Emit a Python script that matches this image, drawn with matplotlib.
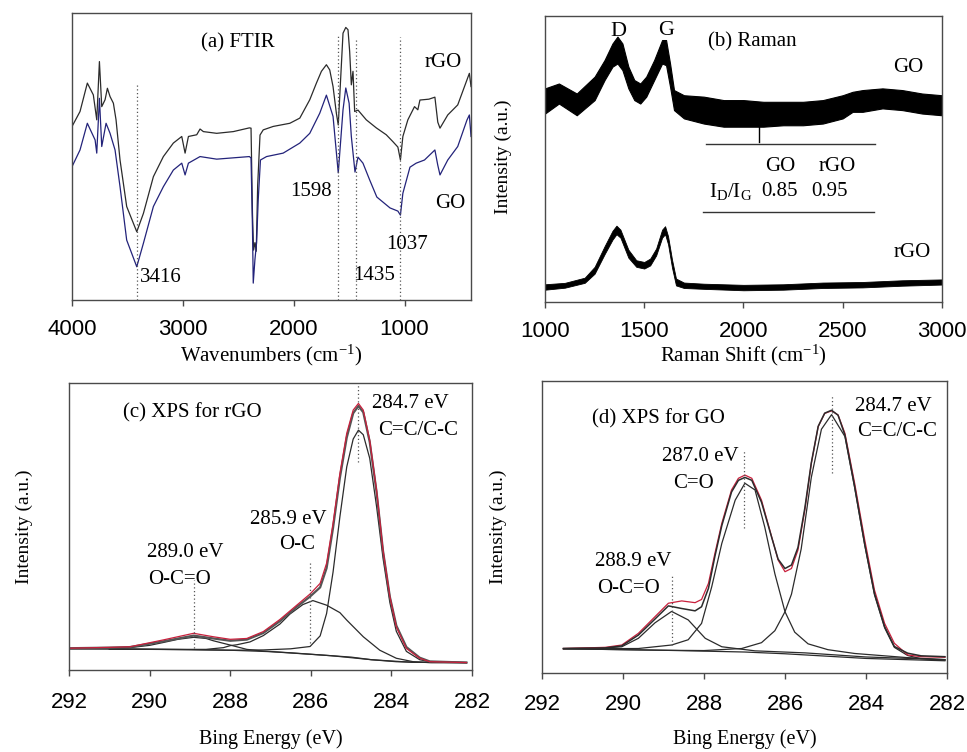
import numpy as np
import matplotlib
matplotlib.use("Agg")
from matplotlib import pyplot as plt

plt.rcParams['font.family'] = 'Liberation Serif'
plt.rcParams['mathtext.fontset'] = 'custom'
plt.rcParams['mathtext.rm'] = 'Liberation Serif'
plt.rcParams['mathtext.it'] = 'Liberation Serif:italic'
plt.rcParams['lines.solid_joinstyle'] = 'round'

# ---(a) FTIR, transmittance in a.u. (0-100 = axis height)---
ftir_rgo_wn = [4000, 3928, 3862, 3808, 3777, 3753, 3732, 3702, 3681, 3657, 3627, 3603, 3567, 3507,
               3416, 3356, 3266, 3176, 3086, 3010, 2980, 2950, 2875, 2845, 2815, 2695, 2545, 2400,
               2385, 2372, 2362, 2350, 2338, 2325, 2304, 2275, 2185, 2035, 1945, 1855, 1795, 1750,
               1705, 1675, 1645, 1615, 1598, 1555, 1530, 1510, 1495, 1480, 1465, 1450, 1420, 1345,
               1255, 1165, 1105, 1060, 1037, 1015, 970, 910, 880, 861, 780, 726, 700, 680, 610, 520,
               437, 415, 400]
ftir_rgo = [60.5, 65.7, 75.6, 71.5, 62.8, 83.1, 67.4, 69.8, 73.8, 70.9, 68.6, 62.8, 48.8, 32.6,
            23.8, 30.2, 43.0, 50.0, 54.7, 57.0, 51.2, 57.0, 57.6, 59.6, 58.7, 58.1, 58.7, 60.0,
            59.9, 30.0, 17.4, 20.0, 17.0, 40.0, 57.5, 59.3, 60.5, 61.6, 63.4, 69.8, 75.6, 79.7,
            82.0, 80.2, 74.4, 65.1, 61.0, 93.0, 95.0, 94.2, 86.6, 75.0, 79.7, 65.7, 66.2, 62.8,
            60.0, 57.6, 55.2, 53.3, 48.8, 57.0, 62.8, 67.4, 66.3, 69.7, 70.0, 70.7, 62.0, 59.9, 64.5, 68.0,
            76.7, 79.0, 74.4]
ftir_go_wn = [4000, 3928, 3862, 3792, 3777, 3753, 3732, 3693, 3657, 3612, 3567, 3507, 3416, 3356,
              3266, 3176, 3086, 3010, 2980, 2950, 2845, 2695, 2400, 2385, 2372, 2365, 2350, 2335,
              2320, 2300, 2245, 2095, 1945, 1855, 1765, 1705, 1645, 1598, 1555, 1530, 1500, 1480,
              1447, 1420, 1375, 1315, 1250, 1131, 1060, 1037, 1015, 951, 895, 820, 726, 700, 680,
              610, 520, 437, 415, 400]
ftir_go = [46.5, 52.3, 61.6, 55.8, 51.2, 70.3, 53.5, 61.6, 58.1, 52.3, 39.5, 20.9, 11.6, 19.8,
           32.6, 39.5, 45.3, 47.7, 43.6, 47.7, 50.0, 49.1, 50.0, 49.5, 25.0, 5.9, 14.0, 20.0,
           35.0, 48.8, 50.0, 51.2, 54.7, 58.1, 65.1, 71.4, 64.0, 44.3, 66.3, 73.9, 68.6, 57.0,
           44.6, 49.8, 47.7, 41.9, 35.9, 32.1, 31.0, 29.6, 37.2, 46.3, 47.7, 48.8, 52.3, 47.0, 43.6,
           48.8, 53.5, 62.7, 64.5, 57.0]
ftir_peaks = [3416, 1598, 1435, 1037]
ftir_peak_top = [74.9, 92.3, 90.6, 91.6]
ftir_labels = ["3416", "1598", "1435", "1037"]
ftir_label_x = [3387, 1845, 1276, 978]
ftir_label_y = [8.0, 38.0, 8.7, 19.2]
ftir_label_ha = ["left", "center", "center", "center"]

# ---(b) Raman, noise band lower/upper edge---
raman_go_x = [1000, 1070, 1160, 1250, 1300, 1340, 1365, 1390, 1420, 1450, 1480, 1510, 1550, 1590,
              1610, 1630, 1650, 1700, 1800, 1900, 2000, 2100, 2200, 2300, 2400, 2500, 2550, 2600,
              2700, 2800, 2900, 3000]
raman_go_hi = [74.7, 76.4, 72.9, 78.8, 84.6, 90.4, 92.8, 90.4, 82.3, 77.6, 76.4, 78.8, 84.6, 91.6,
               91.6, 83.4, 74.1, 72.3, 71.8, 70.6, 70.6, 70.0, 70.0, 70.0, 70.6, 72.3, 73.5, 74.1,
               74.7, 74.1, 72.9, 72.3]
raman_go_lo = [65.9, 69.4, 65.3, 70.6, 77.6, 82.3, 83.4, 81.1, 74.7, 70.6, 69.4, 71.8, 77.6, 83.4,
               82.8, 75.3, 67.1, 64.2, 62.4, 61.3, 61.3, 61.3, 61.8, 61.8, 62.4, 64.2, 66.5, 66.5,
               67.7, 67.1, 65.9, 65.3]
raman_rgo_x = [1000, 1100, 1200, 1250, 1300, 1340, 1360, 1380, 1420, 1460, 1500, 1530, 1560, 1590,
               1605, 1620, 1640, 1660, 1700, 1800, 2000, 2200, 2400, 2600, 2800, 3000]
raman_rgo_hi = [6.2, 6.7, 8.5, 12.3, 19.5, 24.9, 26.7, 25.3, 18.3, 14.6, 14.0, 15.2, 18.7, 25.3,
                26.5, 23.0, 14.8, 8.2, 6.8, 6.4, 6.0, 6.2, 6.8, 7.0, 7.6, 7.9]
raman_rgo_lo = [4.3, 5.0, 6.7, 9.9, 16.7, 21.8, 23.7, 22.5, 15.5, 12.3, 11.7, 12.8, 16.3, 22.5,
                23.7, 20.2, 12.0, 5.8, 4.9, 4.6, 4.1, 4.3, 4.9, 5.1, 5.7, 6.1]
raman_spike_x = [2080, 2080]
raman_spike_y = [61.3, 56.0]
id_ig_go = 0.85
id_ig_rgo = 0.95

# ---(c) XPS rGO---
c_E = [292.0, 291.0, 290.49, 289.66, 288.91, 288.42, 288.0, 287.59, 287.18, 286.77, 286.35, 286.02,
       285.77, 285.61, 285.45, 285.28, 285.11, 284.95, 284.82, 284.70, 284.54, 284.37, 284.21,
       284.04, 283.88, 283.63, 283.30, 283.05, 282.14]
c_raw = [7.6, 7.9, 8.1, 10.5, 12.8, 11.6, 10.7, 11.0, 13.4, 17.6, 22.6, 26.5, 30.2, 37.2, 51.1,
         68.5, 82.5, 90.6, 92.9, 90.6, 80.1, 62.7, 41.8, 25.6, 15.1, 7.5, 4.1, 2.9, 2.6]
c_fit = [7.6, 7.8, 8.0, 10.0, 12.0, 11.0, 10.2, 10.6, 12.9, 17.0, 22.0, 25.6, 28.8, 35.5, 49.5,
         67.0, 81.0, 89.5, 92.0, 89.8, 79.5, 62.0, 41.5, 25.5, 15.5, 8.0, 4.3, 3.0, 2.6]
c_cc_E = [291.0, 289.0, 288.0, 287.18, 286.5, 286.02, 285.77, 285.61, 285.45, 285.28, 285.11,
          284.95, 284.82, 284.70, 284.54, 284.37, 284.21, 284.04, 283.88, 283.63, 283.30, 283.05,
          282.14]
c_cc = [7.3, 7.1, 6.9, 7.0, 7.4, 8.2, 11.9, 19.7, 34.1, 53.4, 70.8, 80.5, 83.6, 82.0, 73.8, 57.0,
        39.0, 23.5, 13.5, 6.5, 3.6, 2.9, 2.6]
c_oc_E = [291.0, 289.5, 288.6, 288.17, 288.0, 287.84, 287.51, 287.18, 286.77, 286.52, 286.2,
          285.95, 285.61, 285.28, 285.11, 284.70, 284.29, 283.88, 283.46, 283.05, 282.14]
c_oc = [7.3, 7.2, 7.2, 7.8, 8.5, 8.8, 9.8, 12.0, 16.0, 19.5, 22.8, 24.2, 22.6, 20.0, 17.4, 11.6,
        6.9, 4.1, 2.9, 2.6, 2.6]
c_oco_E = [292.0, 291.0, 290.49, 290.0, 289.66, 289.3, 288.91, 288.6, 288.42, 288.0, 287.59,
           287.18, 286.5, 285.5, 284.5, 283.5, 282.14]
c_oco = [7.4, 7.4, 7.8, 8.6, 9.6, 10.7, 11.4, 11.0, 10.2, 8.7, 7.2, 6.6, 6.0, 5.0, 3.6, 2.7, 2.6]
c_bg_E = [292.0, 290.49, 289.0, 288.0, 287.0, 286.02, 285.0, 284.5, 283.88, 283.0, 282.14]
c_bg = [7.4, 7.3, 7.1, 6.9, 6.4, 5.5, 4.5, 3.6, 2.9, 2.6, 2.6]
c_marks = [284.82, 286.02, 288.9]
c_mark_top = [100, 37.2, 31.4]
c_mark_bot = [72.6, 9.3, 7.6]

# ---(d) XPS GO---
d_E = [291.47, 290.44, 290.03, 289.62, 289.21, 288.88, 288.55, 288.22, 288.06, 287.89, 287.73,
       287.56, 287.32, 287.15, 286.99, 286.82, 286.58, 286.33, 286.17, 286.0, 285.84, 285.68,
       285.51, 285.35, 285.18, 285.02, 284.85, 284.69, 284.52, 284.28, 284.03, 283.79, 283.54,
       283.3, 282.97, 282.64, 282.05]
d_raw = [8.4, 8.8, 9.6, 13.6, 19.3, 23.9, 24.7, 24.1, 25.2, 30.7, 41.0, 51.3, 62.7, 66.7, 67.8,
         66.7, 59.2, 46.7, 38.7, 34.7, 35.8, 42.1, 55.8, 71.8, 84.4, 88.9, 89.8, 88.4, 82.1, 65.0,
         45.5, 28.4, 17.0, 10.2, 6.2, 5.6, 5.4]
d_fit = [8.4, 8.6, 9.3, 13.0, 18.5, 23.0, 22.1, 21.3, 22.7, 29.0, 40.0, 50.5, 62.0, 66.0, 67.0,
         66.0, 58.5, 46.5, 39.0, 35.8, 37.0, 43.0, 56.5, 72.0, 84.5, 89.0, 90.0, 88.3, 81.5, 63.9,
         44.0, 27.2, 15.9, 9.1, 6.8, 5.9, 5.6]
d_oco_E = [291.47, 290.44, 290.03, 289.62, 289.21, 288.8, 288.39, 287.97, 287.56, 286.74, 285.5,
           284.0, 282.05]
d_oco = [8.4, 8.6, 9.0, 11.9, 17.2, 21.1, 18.2, 11.9, 9.0, 7.6, 6.9, 5.5, 4.6]
d_co_E = [291.47, 289.62, 288.8, 288.39, 288.06, 287.81, 287.56, 287.23, 286.99, 286.74, 286.5,
          286.25, 286.0, 285.76, 285.43, 284.94, 284.28, 283.0, 282.05]
d_co = [8.3, 8.4, 9.6, 11.4, 17.0, 29.5, 44.4, 59.2, 65.0, 62.7, 50.0, 34.0, 21.0, 14.0, 10.0,
        8.0, 6.7, 5.3, 4.6]
d_cc_E = [291.47, 289.0, 288.0, 287.07, 286.58, 286.25, 286.0, 285.84, 285.6, 285.35, 285.1,
          284.85, 284.52, 284.28, 284.03, 283.79, 283.54, 283.3, 282.97, 282.64, 282.05]
d_cc = [8.3, 7.8, 7.7, 8.4, 10.4, 14.5, 21.0, 27.0, 42.5, 67.0, 83.5, 88.5, 81.0, 63.5, 43.8,
        26.8, 15.5, 8.8, 6.0, 4.9, 4.4]
d_bg_E = [291.47, 289.0, 287.0, 286.0, 285.0, 284.0, 282.05]
d_bg = [8.3, 7.8, 7.2, 6.6, 5.8, 5.0, 4.2]
d_marks = [284.85, 287.0, 288.8]
d_mark_top = [95.2, 76.4, 33.9]
d_mark_bot = [68.5, 49.7, 9.6]

frame_col = "#4a4a4a"
red = "#c8203c"
fs = 15


def frame(ax, lim, ticks, pad):
    """Rahmen, x-Ticks und Schrift wie im Original"""
    ax.set_xlim(lim)
    ax.set_ylim(0, 100)
    ax.set_xticks(ticks)
    ax.set_xticklabels([str(t) for t in ticks], fontfamily="Liberation Sans", fontsize=16)
    ax.set_yticks([])
    ax.tick_params(axis="x", direction="out", length=4, width=1, color=frame_col, pad=pad)
    for s in ax.spines.values():
        s.set_color(frame_col)
        s.set_linewidth(1)


fig = plt.figure(figsize=(9.67, 7.52), dpi=100)
ax_a = fig.add_axes([0.0745, 0.601, 0.4126, 0.3816])
ax_b = fig.add_axes([0.5636, 0.5984, 0.4105, 0.3803])
ax_c = fig.add_axes([0.0714, 0.109, 0.4168, 0.3816])
ax_d = fig.add_axes([0.5605, 0.105, 0.4188, 0.3883])

# ---(a)---
ax_a.plot(ftir_rgo_wn, ftir_rgo, color="#2b2b2b", lw=0.9)
ax_a.plot(ftir_go_wn, ftir_go, color="#23237a", lw=0.9)
for wn, top in zip(ftir_peaks, ftir_peak_top):
    ax_a.plot([wn, wn], [0, top], color="#555555", lw=0.9, ls=(0, (1, 2)))
for lab, x, y, ha in zip(ftir_labels, ftir_label_x, ftir_label_y, ftir_label_ha):
    ax_a.text(x, y, lab, fontsize=fs, ha=ha, va="center")
ax_a.text(2502, 89.5, "(a) FTIR", fontsize=fs, ha="center", va="center")
ax_a.text(654, 82.9, "rGO", fontsize=fs, ha="center", va="center")
ax_a.text(590, 33.8, "GO", fontsize=fs, ha="center", va="center")
frame(ax_a, (4000, 400), [4000, 3000, 2000, 1000], 10)
ax_a.set_xlabel("Wavenumbers (cm$^{-1}$)", fontsize=15)
ax_a.xaxis.set_label_coords(0.5, -0.15)

# ---(b)---
ax_b.fill_between(raman_go_x, raman_go_lo, raman_go_hi, color="black", lw=0.8)
ax_b.fill_between(raman_rgo_x, raman_rgo_lo, raman_rgo_hi, color="black", lw=0.6)
ax_b.plot(raman_spike_x, raman_spike_y, color="black", lw=1)
ax_b.plot([1810, 2664], [55.2, 55.2], color="#333333", lw=1)
ax_b.plot([1798, 2659], [31.4, 31.4], color="#333333", lw=1)
ax_b.text(2185, 47.5, "GO", fontsize=fs, ha="center", va="center")
ax_b.text(2471, 47.5, "rGO", fontsize=fs, ha="center", va="center")
ax_b.text(1933, 38.5, r"I$_{\rm D}$/I$_{\rm G}$", fontsize=fs, ha="center", va="center")
ax_b.text(2182, 38.5, "%.2f" % id_ig_go, fontsize=fs, ha="center", va="center")
ax_b.text(2434, 38.5, "%.2f" % id_ig_rgo, fontsize=fs, ha="center", va="center")
ax_b.text(1370, 94.5, "D", fontsize=16, ha="center", va="center")
ax_b.text(1610, 95.0, "G", fontsize=16, ha="center", va="center")
ax_b.text(2042, 91.0, "(b) Raman", fontsize=fs, ha="center", va="center")
ax_b.text(2832, 82.0, "GO", fontsize=fs, ha="center", va="center")
ax_b.text(2849, 17.3, "rGO", fontsize=fs, ha="center", va="center")
frame(ax_b, (1000, 3000), [1000, 1500, 2000, 2500, 3000], 10)
ax_b.set_xlabel("Raman Shift (cm$^{-1}$)", fontsize=15)
ax_b.xaxis.set_label_coords(0.5, -0.143)
ax_b.set_ylabel("Intensity (a.u.)", fontsize=14)
ax_b.yaxis.set_label_coords(-0.083, 0.507)

# ---(c)---
for E, y in [(c_bg_E, c_bg), (c_oco_E, c_oco), (c_oc_E, c_oc), (c_cc_E, c_cc)]:
    ax_c.plot(E, y, color="#2b2b2b", lw=0.9)
ax_c.plot(c_E, c_fit, color="#555555", lw=1.6)
ax_c.plot(c_E, c_raw, color=red, lw=0.9)
for e, t, b in zip(c_marks, c_mark_top, c_mark_bot):
    ax_c.plot([e, e], [b, t], color="#555555", lw=0.9, ls=(0, (1, 2)))
ax_c.text(290.66, 89.5, "(c) XPS for rGO", fontsize=fs, ha="left", va="center")
ax_c.text(283.54, 93.0, "284.7 eV", fontsize=fs, ha="center", va="center")
ax_c.text(283.34, 83.6, "C=C/C-C", fontsize=fs, ha="center", va="center")
ax_c.text(286.57, 52.3, "285.9 eV", fontsize=fs, ha="center", va="center")
ax_c.text(286.35, 43.6, "O-C", fontsize=fs, ha="center", va="center")
ax_c.text(289.12, 40.8, "289.0 eV", fontsize=fs, ha="center", va="center")
ax_c.text(289.25, 31.4, "O-C=O", fontsize=fs, ha="center", va="center")
frame(ax_c, (292, 282), [292, 290, 288, 286, 284, 282], 12)
ax_c.set_xlabel("Bing Energy (eV)", fontsize=14.5)
ax_c.xaxis.set_label_coords(0.5, -0.206)
ax_c.set_ylabel("Intensity (a.u.)", fontsize=14)
ax_c.yaxis.set_label_coords(-0.089, 0.498)

# ---(d)---
for E, y in [(d_bg_E, d_bg), (d_oco_E, d_oco), (d_co_E, d_co), (d_cc_E, d_cc)]:
    ax_d.plot(E, y, color="#2b2b2b", lw=0.9)
ax_d.plot(d_E, d_raw, color=red, lw=0.9)
ax_d.plot(d_E, d_fit, color="#2b2b2b", lw=1.1)
for e, t, b in zip(d_marks, d_mark_top, d_mark_bot):
    ax_d.plot([e, e], [b, t], color="#555555", lw=0.9, ls=(0, (1, 2)))
ax_d.text(290.77, 87.0, "(d) XPS for GO", fontsize=fs, ha="left", va="center")
ax_d.text(283.33, 91.2, "284.7 eV", fontsize=fs, ha="center", va="center")
ax_d.text(283.24, 82.6, "C=C/C-C", fontsize=fs, ha="center", va="center")
ax_d.text(288.1, 74.1, "287.0 eV", fontsize=fs, ha="center", va="center")
ax_d.text(288.26, 65.0, "C=O", fontsize=fs, ha="center", va="center")
ax_d.text(289.75, 38.1, "288.9 eV", fontsize=fs, ha="center", va="center")
ax_d.text(289.87, 29.0, "O-C=O", fontsize=fs, ha="center", va="center")
frame(ax_d, (292, 282), [292, 290, 288, 286, 284, 282], 11)
ax_d.set_xlabel("Bing Energy (eV)", fontsize=14.5)
ax_d.xaxis.set_label_coords(0.5, -0.192)
ax_d.set_ylabel("Intensity (a.u.)", fontsize=14)
ax_d.yaxis.set_label_coords(-0.086, 0.5)

fig.savefig("out.png", dpi=100)
